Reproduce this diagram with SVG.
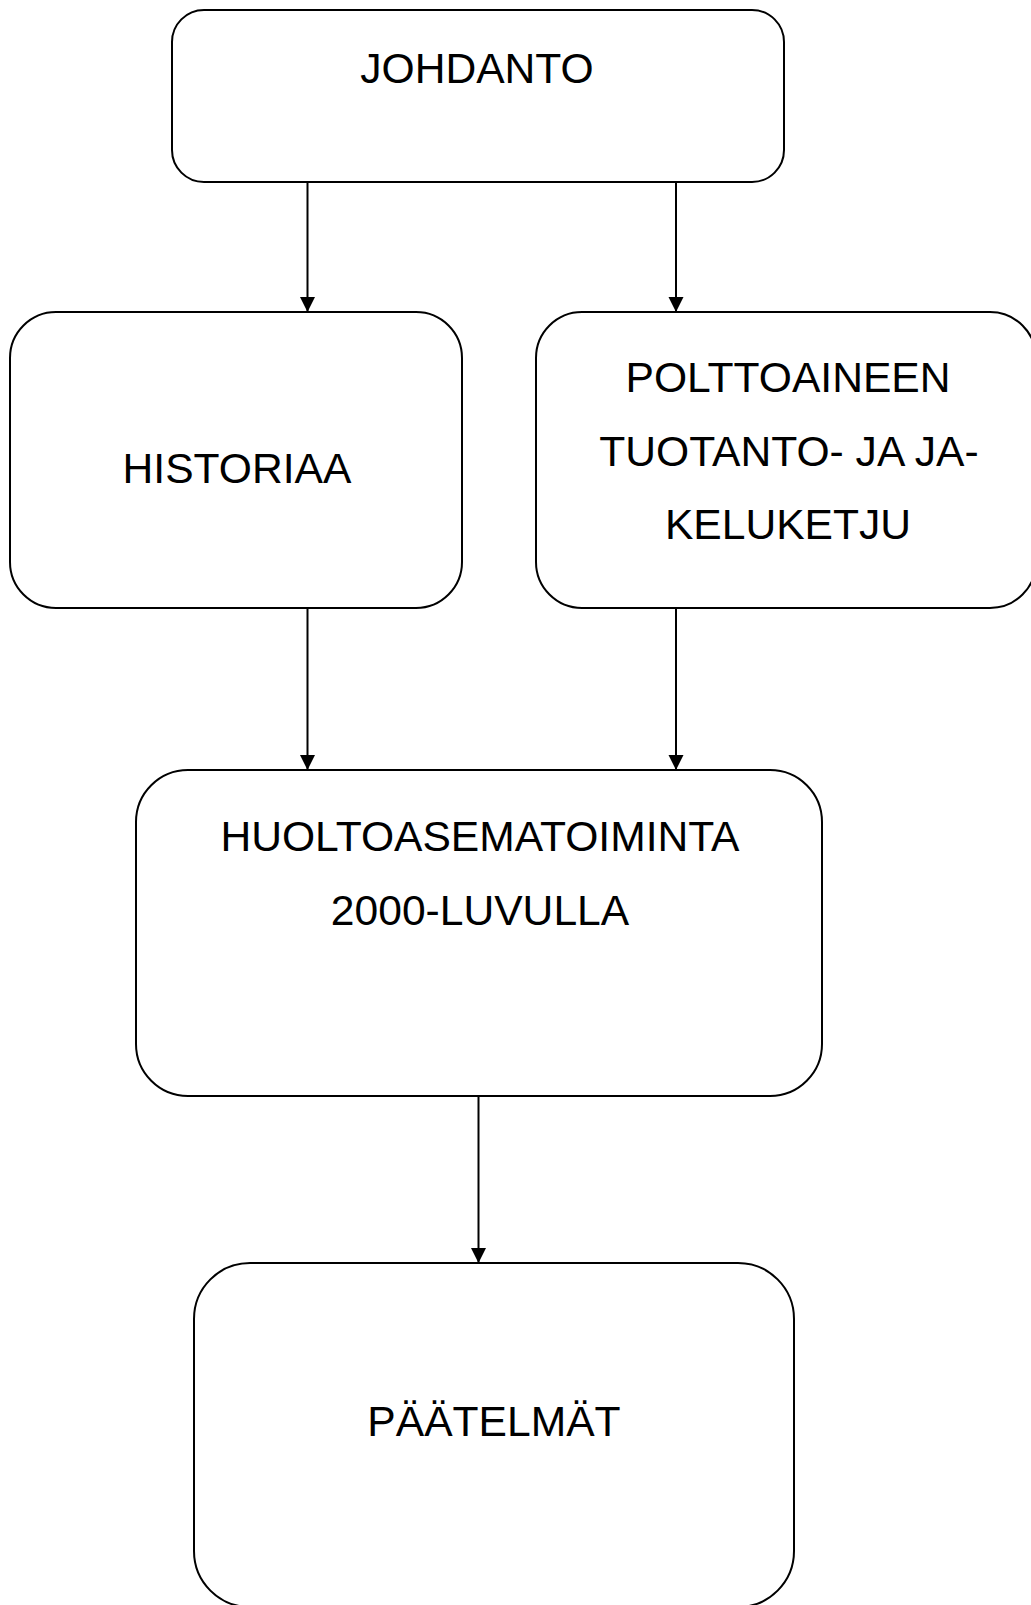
<svg xmlns="http://www.w3.org/2000/svg" width="1031" height="1605" viewBox="0 0 1031 1605">
  <style>
    .box { fill: #ffffff; stroke: #000000; stroke-width: 2; }
    .label { font-family: "Liberation Sans", Arial, sans-serif; font-size: 42.6px; fill: #000000; text-anchor: middle; }
    .link { stroke: #000000; stroke-width: 2; fill: none; marker-end: url(#arrow); }
  </style>
  <defs>
    <marker id="arrow" markerUnits="userSpaceOnUse" markerWidth="16" markerHeight="16" refX="15" refY="7.5" orient="auto">
      <path d="M0,0 L15,7.5 L0,15 Z" fill="#000000"/>
    </marker>
  </defs>

  <rect width="1031" height="1605" fill="#ffffff"/>

  <!-- connectors -->
  <g id="connectors">
    <path class="link" d="M307.5,182 L307.5,312"/>
    <path class="link" d="M676,182 L676,312"/>
    <path class="link" d="M307.5,608 L307.5,770"/>
    <path class="link" d="M676,608 L676,770"/>
    <path class="link" d="M478.5,1096 L478.5,1263"/>
  </g>

  <!-- nodes -->
  <g id="johdanto">
    <rect class="box" x="172" y="10" width="612" height="172" rx="32" ry="32"/>
    <text class="label" x="477" y="83">JOHDANTO</text>
  </g>

  <g id="historiaa">
    <rect class="box" x="10" y="312" width="452" height="296" rx="46" ry="46"/>
    <text class="label" x="237" y="483">HISTORIAA</text>
  </g>

  <g id="polttoaine">
    <rect class="box" x="536" y="312" width="500" height="296" rx="46" ry="46"/>
    <text class="label" x="788" y="392">POLTTOAINEEN</text>
    <text class="label" x="789" y="466">TUOTANTO- JA JA-</text>
    <text class="label" x="788" y="539">KELUKETJU</text>
  </g>

  <g id="huoltoasema">
    <rect class="box" x="136" y="770" width="686" height="326" rx="52" ry="52"/>
    <text class="label" x="480" y="851">HUOLTOASEMATOIMINTA</text>
    <text class="label" x="480" y="925">2000-LUVULLA</text>
  </g>

  <g id="paatelmat">
    <rect class="box" x="194" y="1263" width="600" height="344" rx="56" ry="56"/>
    <text class="label" x="494" y="1436">PÄÄTELMÄT</text>
  </g>
</svg>
